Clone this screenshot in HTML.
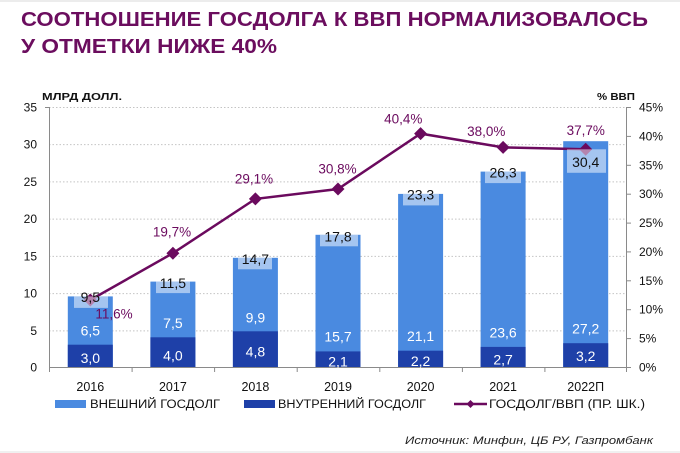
<!DOCTYPE html>
<html><head><meta charset="utf-8"><style>
html,body{margin:0;padding:0;background:#fff;}
svg{display:block;font-family:"Liberation Sans","Noto Sans CJK SC",sans-serif;}
</style></head><body>
<svg width="680" height="453" viewBox="0 0 680 453" xmlns="http://www.w3.org/2000/svg">
<rect x="0" y="0" width="680" height="453" fill="#fff"/>
<rect x="0" y="0" width="680" height="2" fill="#ececec"/>
<!-- title -->
<text x="21" y="26" font-size="20" font-weight="bold" fill="#6b0d5e" textLength="627" lengthAdjust="spacingAndGlyphs">СООТНОШЕНИЕ ГОСДОЛГА К ВВП НОРМАЛИЗОВАЛОСЬ</text>
<text x="21" y="53" font-size="20" font-weight="bold" fill="#6b0d5e" textLength="256" lengthAdjust="spacingAndGlyphs">У ОТМЕТКИ НИЖЕ 40%</text>
<!-- axis titles -->
<text x="42" y="100" font-size="10.5" font-weight="bold" fill="#111" textLength="80" lengthAdjust="spacingAndGlyphs">МЛРД ДОЛЛ.</text>
<text x="597" y="100" font-size="10.5" font-weight="bold" fill="#111" textLength="38" lengthAdjust="spacingAndGlyphs">% ВВП</text>
<!-- gridlines -->
<g stroke="#c4c4c4" stroke-width="1" stroke-dasharray="1.5,2">
<line x1="49" y1="107.5" x2="627" y2="107.5"/>
<line x1="49" y1="144.6" x2="627" y2="144.6"/>
<line x1="49" y1="181.9" x2="627" y2="181.9"/>
<line x1="49" y1="219.1" x2="627" y2="219.1"/>
<line x1="49" y1="256.4" x2="627" y2="256.4"/>
<line x1="49" y1="293.6" x2="627" y2="293.6"/>
<line x1="49" y1="330.9" x2="627" y2="330.9"/>
</g>
<!-- axes -->
<g stroke="#8a8a8a" stroke-width="1">
<line x1="49.5" y1="107" x2="49.5" y2="367"/>
<line x1="45" y1="107.5" x2="49.5" y2="107.5"/>
<line x1="626.5" y1="107" x2="626.5" y2="367"/>
<line x1="49" y1="367.5" x2="631" y2="367.5"/>
<line x1="49.5" y1="367" x2="49.5" y2="372"/>
<line x1="132.1" y1="367" x2="132.1" y2="372"/>
<line x1="214.6" y1="367" x2="214.6" y2="372"/>
<line x1="297.2" y1="367" x2="297.2" y2="372"/>
<line x1="379.8" y1="367" x2="379.8" y2="372"/>
<line x1="462.4" y1="367" x2="462.4" y2="372"/>
<line x1="544.9" y1="367" x2="544.9" y2="372"/>
<line x1="626.5" y1="367" x2="626.5" y2="372"/>
<line x1="626.5" y1="107.5" x2="631" y2="107.5"/>
<line x1="626.5" y1="136.4" x2="631" y2="136.4"/>
<line x1="626.5" y1="165.3" x2="631" y2="165.3"/>
<line x1="626.5" y1="194.2" x2="631" y2="194.2"/>
<line x1="626.5" y1="223.1" x2="631" y2="223.1"/>
<line x1="626.5" y1="251.9" x2="631" y2="251.9"/>
<line x1="626.5" y1="280.8" x2="631" y2="280.8"/>
<line x1="626.5" y1="309.7" x2="631" y2="309.7"/>
<line x1="626.5" y1="338.6" x2="631" y2="338.6"/>
</g>
<!-- left tick labels -->
<g font-size="12" fill="#111" text-anchor="end">
<text x="37" y="111.5">35</text>
<text x="37" y="148.6">30</text>
<text x="37" y="185.9">25</text>
<text x="37" y="223.1">20</text>
<text x="37" y="260.4">15</text>
<text x="37" y="297.6">10</text>
<text x="37" y="334.9">5</text>
<text x="37" y="371.5">0</text>
</g>
<!-- right tick labels -->
<g font-size="12" fill="#111">
<text x="639" y="111.5">45%</text>
<text x="639" y="140.4">40%</text>
<text x="639" y="169.3">35%</text>
<text x="639" y="198.2">30%</text>
<text x="639" y="227.1">25%</text>
<text x="639" y="255.9">20%</text>
<text x="639" y="284.8">15%</text>
<text x="639" y="313.7">10%</text>
<text x="639" y="342.6">5%</text>
<text x="639" y="371.5">0%</text>
</g>
<!-- bars: light (total) -->
<g fill="#4a8ae0">
<rect x="67.8" y="296.4" width="45" height="70.6"/>
<rect x="150.4" y="281.6" width="45" height="85.4"/>
<rect x="232.9" y="257.8" width="45" height="109.2"/>
<rect x="315.5" y="234.8" width="45" height="132.2"/>
<rect x="398.1" y="193.9" width="45" height="173.1"/>
<rect x="480.6" y="171.6" width="45" height="195.4"/>
<rect x="563.2" y="141.2" width="45" height="225.8"/>
</g>
<!-- bars: dark (inner) -->
<g fill="#1e40a8">
<rect x="67.8" y="344.7" width="45" height="22.3"/>
<rect x="150.4" y="337.3" width="45" height="29.7"/>
<rect x="232.9" y="331.3" width="45" height="35.7"/>
<rect x="315.5" y="351.4" width="45" height="15.6"/>
<rect x="398.1" y="350.7" width="45" height="16.3"/>
<rect x="480.6" y="346.9" width="45" height="20.1"/>
<rect x="563.2" y="343.2" width="45" height="23.8"/>
</g>
<!-- line -->
<polyline points="90.3,300 172.9,253.2 255.4,198.9 338,189 420.6,133.6 503.1,147.4 585.7,149.2" fill="none" stroke="#6b0a5e" stroke-width="2.5"/>
<g fill="#6b0a5e">
<polygon points="90.3,293.5 96.8,300 90.3,306.5 83.8,300"/>
<polygon points="172.9,246.7 179.4,253.2 172.9,259.7 166.4,253.2"/>
<polygon points="255.4,192.4 261.9,198.9 255.4,205.4 248.9,198.9"/>
<polygon points="338,182.5 344.5,189 338,195.5 331.5,189"/>
<polygon points="420.6,127.1 427.1,133.6 420.6,140.1 414.1,133.6"/>
<polygon points="503.1,140.9 509.6,147.4 503.1,153.9 496.6,147.4"/>
<polygon points="585.7,142.7 592.2,149.2 585.7,155.7 579.2,149.2"/>
</g>
<!-- label boxes (semi-transparent) -->
<g fill="#ffffff" fill-opacity="0.5">
<rect x="74" y="296.4" width="34" height="11.5"/>
<rect x="156" y="281.6" width="34" height="11.5"/>
<rect x="238" y="257.8" width="34" height="11.5"/>
<rect x="320" y="234.8" width="38" height="11.5"/>
<rect x="403" y="193.9" width="36" height="11.5"/>
<rect x="485" y="171.6" width="36" height="11.5"/>
<rect x="567" y="149.3" width="39" height="23.5"/>
</g>
<!-- total labels -->
<g font-size="14" fill="#111" text-anchor="middle">
<text x="90.3" y="302">9,5</text>
<text x="172.9" y="287.8">11,5</text>
<text x="255.4" y="264">14,7</text>
<text x="338" y="241.3">17,8</text>
<text x="420.6" y="199.6">23,3</text>
<text x="503.1" y="177.6">26,3</text>
<text x="585.7" y="167">30,4</text>
</g>
<!-- light segment labels -->
<g font-size="14" fill="#fff" text-anchor="middle">
<text x="90.3" y="335.5">6,5</text>
<text x="172.9" y="328">7,5</text>
<text x="255.4" y="322.5">9,9</text>
<text x="338" y="341.6">15,7</text>
<text x="420.6" y="340.8">21,1</text>
<text x="503.1" y="337.5">23,6</text>
<text x="585.7" y="333.5">27,2</text>
</g>
<!-- dark segment labels -->
<g font-size="14" fill="#fff" text-anchor="middle">
<text x="90.3" y="363">3,0</text>
<text x="172.9" y="360.5">4,0</text>
<text x="255.4" y="356.5">4,8</text>
<text x="338" y="366.3">2,1</text>
<text x="420.6" y="366">2,2</text>
<text x="503.1" y="364.5">2,7</text>
<text x="585.7" y="361">3,2</text>
</g>
<!-- pct labels -->
<g font-size="13.5" fill="#6b0a5e" text-anchor="middle">
<text x="114" y="318.3">11,6%</text>
<text x="172" y="236.7">19,7%</text>
<text x="254" y="183.3">29,1%</text>
<text x="337.5" y="173.3">30,8%</text>
<text x="403.3" y="123.3">40,4%</text>
<text x="486.3" y="136">38,0%</text>
<text x="585.8" y="135">37,7%</text>
</g>
<!-- year labels -->
<g font-size="12.5" fill="#111" text-anchor="middle">
<text x="90.3" y="391">2016</text>
<text x="172.9" y="391">2017</text>
<text x="255.4" y="391">2018</text>
<text x="338" y="391">2019</text>
<text x="420.6" y="391">2020</text>
<text x="503.1" y="391">2021</text>
<text x="585.7" y="391">2022П</text>
</g>
<!-- legend -->
<rect x="55" y="400" width="31" height="8" fill="#4a8ae0"/>
<text x="90" y="408" font-size="11.5" fill="#111" textLength="130" lengthAdjust="spacingAndGlyphs">ВНЕШНИЙ ГОСДОЛГ</text>
<rect x="244" y="400" width="31" height="8" fill="#1e40a8"/>
<text x="278" y="408" font-size="11.5" fill="#111" textLength="148" lengthAdjust="spacingAndGlyphs">ВНУТРЕННИЙ ГОСДОЛГ</text>
<line x1="454" y1="404" x2="487" y2="404" stroke="#6b0a5e" stroke-width="2.5"/>
<polygon points="470.5,400 474.5,404 470.5,408 466.5,404" fill="#6b0a5e"/>
<text x="489" y="408" font-size="11.5" fill="#111" textLength="156" lengthAdjust="spacingAndGlyphs">ГОСДОЛГ/ВВП (ПР. ШК.)</text>
<!-- source -->
<text x="405" y="444" font-size="11" font-style="italic" fill="#222" textLength="248" lengthAdjust="spacingAndGlyphs">Источник: Минфин, ЦБ РУ, Газпромбанк</text>
<rect x="0" y="451" width="680" height="2" fill="#f0f0f0"/>
</svg>
</body></html>
